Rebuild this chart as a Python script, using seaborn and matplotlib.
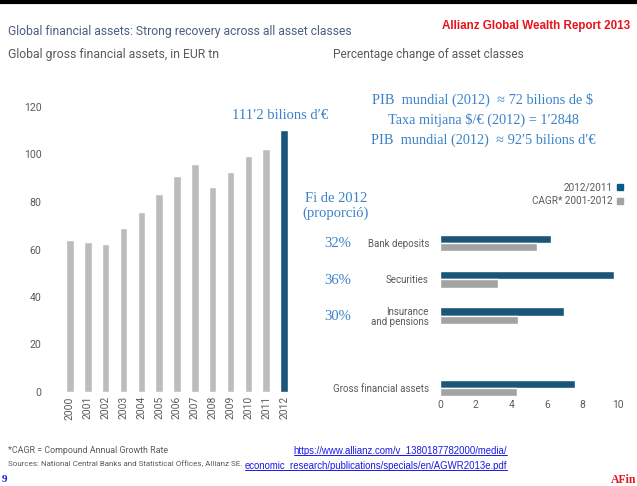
import matplotlib
matplotlib.use("Agg")
import matplotlib.pyplot as plt
import seaborn as sns
import pandas as pd

# left chart: global gross financial assets, EUR tn
years = [str(y) for y in range(2000, 2013)]
assets_tn = [64.0, 63.2, 62.3, 69.0, 75.8, 83.5, 91.0, 96.0, 86.2, 92.8, 99.5, 102.2, 110.5]

# right chart: percentage change of asset classes
classes = ["Bank deposits", "Securities", "Insurance\nand pensions", "Gross financial assets"]
change_2012 = [6.25, 9.8, 6.95, 7.6]
cagr_2001_2012 = [5.45, 3.25, 4.4, 4.3]
shares = ["32%", "36%", "30%"]
series_names = ["2012/2011", "CAGR* 2001-2012"]

BLUE = "#0a5a88"
GREY = "#bcbcbc"
GREY2 = "#a3a3a3"
NOTE = "#3b82c8"
TXT = "#5a5a5a"
URL = "#1a1ae6"
SERIF = "Liberation Serif"

sns.set_theme(style="white")
plt.rcParams["font.family"] = ["Roboto", "DejaVu Sans"]

W, H = 637, 486
fig = plt.figure(figsize=(W / 100, H / 100), dpi=100)
fig.patch.set_facecolor("white")

def box(x0, y0, x1, y1):
    return [x0 / W, 1 - y1 / H, (x1 - x0) / W, (y1 - y0) / H]

# top rule
fig.add_artist(plt.Line2D([0, 1], [1 - 2 / H, 1 - 2 / H], color="black", lw=3))

# ---- left bar chart
ax1 = fig.add_axes(box(61, 107, 293, 392))
df1 = pd.DataFrame({"year": years, "value": assets_tn})
colors1 = [GREY] * (len(years) - 1) + [BLUE]
sns.barplot(data=df1, x="year", y="value", hue="year", palette=colors1,
            legend=False, width=0.42, ax=ax1)
ax1.set_ylim(0, 120)
ax1.set_yticks(range(0, 121, 20))
ax1.set_xlabel("")
ax1.set_ylabel("")
sns.despine(ax=ax1, left=True, bottom=True)
ax1.tick_params(axis="y", length=0, pad=14, labelsize=7.6, labelcolor=TXT)
ax1.tick_params(axis="x", length=0, pad=3, labelsize=7.4, labelcolor=TXT, rotation=90)
ax1.text(11.8, 113.5, "111\u20322 bilions d\u2032\u20ac", ha="center", va="bottom",
         color=NOTE, fontsize=10.5, family=SERIF)

# ---- right horizontal bar chart
ax2 = fig.add_axes(box(440, 225, 618, 397))
order = classes[:3] + [""] + classes[3:]
df2 = pd.DataFrame({
    "cls": classes * 2,
    "pct": change_2012 + cagr_2001_2012,
    "series": [series_names[0]] * 4 + [series_names[1]] * 4,
})
sns.barplot(data=df2, y="cls", x="pct", hue="series", order=order,
            palette=[BLUE, GREY2], width=0.46, orient="h", legend=False, ax=ax2)
ax2.set_xlim(0, 10)
ax2.set_ylim(4.25, -0.5)
ax2.set_xticks(range(0, 11, 2))
ax2.set_xlabel("")
ax2.set_ylabel("")
sns.despine(ax=ax2, left=True, bottom=True)
ax2.tick_params(axis="y", length=0, pad=8, labelsize=7, labelcolor=TXT)
ax2.tick_params(axis="x", length=0, pad=2, labelsize=7.4, labelcolor=TXT)
for lab in ax2.get_yticklabels():
    lab.set_multialignment("right")
    lab.set_linespacing(1.0)

for i, s in enumerate(shares):
    fig.text(338 / W, 1 - (243 + 37 * i) / H, s, ha="center", va="center",
             color=NOTE, fontsize=10.5, family=SERIF)
fig.text(336 / W, 1 - 206 / H, "Fi de 2012\n(proporci\u00f3)", ha="center", va="center",
         color=NOTE, fontsize=10.5, family=SERIF, linespacing=1.05)

# legend
for j, (name, c) in enumerate(zip(series_names, [BLUE, GREY2])):
    y = 1 - (187 + 14 * j) / H
    fig.text(613 / W, y, name, ha="right", va="center", fontsize=7.2, color=TXT)
    fig.add_artist(plt.Rectangle((617 / W, y - 3 / H), 6 / W, 6 / H, color=c,
                                 transform=fig.transFigure))

# headings
fig.text(8 / W, 1 - 31 / H, "Global financial assets: Strong recovery across all asset classes",
         ha="left", va="center", fontsize=8.75, color="#4c5d80")
fig.text(8 / W, 1 - 54 / H, "Global gross financial assets, in EUR tn",
         ha="left", va="center", fontsize=8.8, color=TXT)
fig.text(333 / W, 1 - 54 / H, "Percentage change of asset classes",
         ha="left", va="center", fontsize=8.6, color=TXT)
fig.text(630 / W, 1 - 26 / H, "Allianz Global Wealth Report 2013",
         ha="right", va="center", fontsize=8.4, color="#e8141c",
         fontweight="bold", family="Liberation Sans")

# GDP notes
notes = ["PIB  mundial (2012)  \u2248 72 bilions de $",
         "Taxa mitjana $/\u20ac (2012) = 1\u20322848",
         "PIB  mundial (2012)  \u2248 92\u20325 bilions d\u2032\u20ac"]
for i, t in enumerate(notes):
    fig.text(483 / W, 1 - (100 + 20 * i) / H, t, ha="center", va="center",
             color=NOTE, fontsize=10.3, family=[SERIF, "DejaVu Serif"])

# footer
fig.text(8 / W, 1 - 450 / H, "*CAGR = Compound Annual Growth Rate",
         ha="left", va="center", fontsize=6.4, color=TXT)
fig.text(8 / W, 1 - 464 / H, "Sources: National Central Banks and Statistical Offices, Allianz SE.",
         ha="left", va="center", fontsize=5.75, color=TXT)
links = [
    fig.text(507 / W, 1 - 451 / H, "https://www.allianz.com/v_1380187782000/media/",
             ha="right", va="center", fontsize=6.9, color=URL, family="Liberation Sans"),
    fig.text(507 / W, 1 - 466 / H, "economic_research/publications/specials/en/AGWR2013e.pdf",
             ha="right", va="center", fontsize=6.9, color=URL, family="Liberation Sans"),
]
fig.canvas.draw()
for t in links:
    bb = t.get_window_extent().transformed(fig.transFigure.inverted())
    fig.add_artist(plt.Line2D([bb.x0, bb.x1], [bb.y0 + 1 / H] * 2, color=URL, lw=0.7))
fig.text(2 / W, 1 - 479 / H, "9", ha="left", va="center", fontsize=8,
         color=URL, fontweight="bold", family=SERIF)
fig.text(636 / W, 1 - 480 / H, "AFin", ha="right", va="center", fontsize=8.5,
         color="#e8141c", fontweight="bold", family=SERIF)

fig.savefig("out.png", dpi=100)
